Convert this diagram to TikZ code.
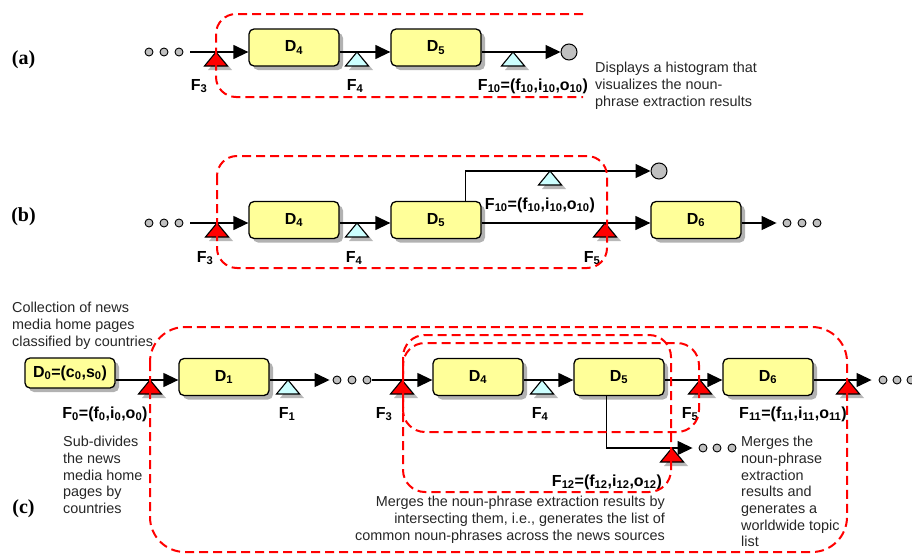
\documentclass[tikz,border=0pt]{standalone}
\usepackage{fontspec}
\setmainfont{Liberation Sans}
\newfontfamily\panelfont{Liberation Serif}
\usetikzlibrary{arrows.meta,shadows,calc}
\definecolor{boxyellow}{HTML}{FFFF99}
\definecolor{tred}{HTML}{FF0000}
\definecolor{tcyan}{HTML}{CCFFFF}
\definecolor{dotgray}{HTML}{C0C0C0}
\newcommand\lsb[1]{\textsubscript{#1}}
\tikzset{
  box/.style={draw, line width=1.3pt, rounded corners=5pt, fill=boxyellow,
    minimum width=90pt, minimum height=37pt, inner sep=0pt,
    font=\fontsize{16}{19}\selectfont\bfseries,
    drop shadow={shadow xshift=4pt, shadow yshift=-4pt, fill=black!30, opacity=1}},
  lab/.style={font=\fontsize{16}{19}\selectfont\bfseries, inner sep=0pt, anchor=base},
  desc/.style={font=\fontsize{14.4}{16.7}\selectfont, align=left, inner sep=0pt, text=black!85, anchor=north west},
  descr/.style={font=\fontsize{14.4}{16.7}\selectfont, align=right, inner sep=0pt, text=black!85, anchor=north east},
  dot/.style={circle, draw, fill=dotgray, minimum size=8pt, inner sep=0pt, line width=0.9pt},
  endc/.style={circle, draw, fill=dotgray, minimum size=16pt, inner sep=0pt, line width=1pt},
  arr/.style={line width=1.3pt, -{Triangle[length=15pt,width=14pt]}},
  grp/.style={draw=tred, line width=2pt, dash pattern=on 9pt off 5pt},
  panel/.style={font=\fontsize{20}{24}\selectfont\panelfont\bfseries, inner sep=0pt, anchor=base},
  pics/ftri/.style={code={
    \fill[black!28] (4,4) -- (-8,18) -- (16,18) -- cycle;
    \draw[fill=#1, line width=1.1pt, line join=miter] (0,0) -- (-11.5,14) -- (11.5,14) -- cycle;
  }}
}
\begin{document}
\begin{tikzpicture}[x=1pt,y=-1pt]
\useasboundingbox (0,0) rectangle (912,554);

% ---------------- panel (a)
\coordinate (ya) at (0,52);
\node[dot] (a1) at (149,52) {};
\node[dot] (a2) at (164,52) {};
\node[dot] (a3) at (179,52) {};
\node[box] (D4a) at (294,47.5) {D\lsb4};
\node[box] (D5a) at (436,47.5) {D\lsb5};
\node[endc] (Ea) at (569,52) {};
\draw[arr, shorten <=7pt] (a3.east) -- (D4a.west |- ya);
\draw[arr] (D4a.east |- ya) -- (D5a.west |- ya);
\draw[arr] (D5a.east |- ya) -- (Ea);
\pic at (216,52) {ftri=tred};
\pic at (357,52) {ftri=tcyan};
\pic at (513,52) {ftri=tcyan};
\node[lab] (F3a) at (199,90) {F\lsb3};
\node[lab] (F4a) at (355,90) {F\lsb4};
\node[lab] (F10a) at (533,90) {F\lsb{10}=(f\lsb{10},i\lsb{10},o\lsb{10})};
\node[desc] (Ta) at (595,62) {Displays a histogram that\\visualizes the noun-\\phrase extraction results};
\node[panel] (La) at (23.5,64) {(a)};
\draw[grp, rounded corners=20pt] (583,14) -- (216,14) -- (216,97) -- (583,97);

% ---------------- panel (b)
\coordinate (yb) at (0,223);
\node[dot] (b1) at (149,223) {};
\node[dot] (b2) at (164,223) {};
\node[dot] (b3) at (179,223) {};
\node[box] (D4b) at (294,220) {D\lsb4};
\node[box] (D5b) at (436,220) {D\lsb5};
\node[box] (D6b) at (696,220) {D\lsb6};
\node[endc] (Eb) at (659,171) {};
\node[dot] (bb1) at (787,223) {};
\node[dot] (bb2) at (802,223) {};
\node[dot] (bb3) at (817,223) {};
\draw[arr, shorten <=7pt] (b3.east) -- (D4b.west |- yb);
\draw[arr] (D4b.east |- yb) -- (D5b.west |- yb);
\draw[arr] (D5b.east |- yb) -- (D6b.west |- yb);
\draw[arr] ($(D5b.north east)+(-16,0)$) |- (Eb);
\draw[arr, shorten >=6pt] (D6b.east |- yb) -- (bb1.west);
\pic at (217,223) {ftri=tred};
\pic at (357,223) {ftri=tcyan};
\pic at (550,171) {ftri=tcyan};
\pic at (605,223) {ftri=tred};
\node[lab] (F3b) at (205,262) {F\lsb3};
\node[lab] (F4b) at (354,262) {F\lsb4};
\node[lab] (F5b) at (592,262) {F\lsb5};
\node[lab] (F10b) at (540,209) {F\lsb{10}=(f\lsb{10},i\lsb{10},o\lsb{10})};
\node[panel] (Lb) at (23.5,221) {(b)};
\draw[grp, rounded corners=20pt] (217,156) rectangle (607,268);

% ---------------- panel (c)
\coordinate (yc) at (0,380);
\node[box, minimum height=30pt] (D0) at (70,373) {D\lsb0=(c\lsb0,s\lsb0)};
\node[box] (D1) at (224,377) {D\lsb1};
\node[box] (D4c) at (478,377) {D\lsb4};
\node[box] (D5c) at (619,377) {D\lsb5};
\node[box] (D6c) at (768,377) {D\lsb6};
\node[dot] (c1) at (337,380) {};
\node[dot] (c2) at (352,380) {};
\node[dot] (c3) at (367,380) {};
\node[dot] (cc1) at (883,380) {};
\node[dot] (cc2) at (897,380) {};
\node[dot] (cc3) at (911,380) {};
\node[dot] (cd1) at (703,448) {};
\node[dot] (cd2) at (717,448) {};
\node[dot] (cd3) at (732,448) {};
\draw[arr] (D0.east |- yc) -- (D1.west |- yc);
\draw[arr, shorten >=3pt] (D1.east |- yc) -- (c1.west);
\draw[arr, shorten <=1pt] (c3.east) -- (D4c.west |- yc);
\draw[arr] (D4c.east |- yc) -- (D5c.west |- yc);
\draw[arr] (D5c.east |- yc) -- (D6c.west |- yc);
\draw[arr, shorten >=7pt] (D6c.east |- yc) -- (cc1.west);
\draw[arr, shorten >=6pt] ($(D5c.south west)+(33,0)$) |- (cd1.west);
\pic at (150,380) {ftri=tred};
\pic at (288,380) {ftri=tcyan};
\pic at (402,380) {ftri=tred};
\pic at (542,380) {ftri=tcyan};
\pic at (700,380) {ftri=tred};
\pic at (848,380) {ftri=tred};
\pic at (672,448) {ftri=tred};
\node[lab] (F0) at (105,418) {F\lsb0=(f\lsb0,i\lsb0,o\lsb0)};
\node[lab] (F1) at (287,418) {F\lsb1};
\node[lab] (F3c) at (384,418) {F\lsb3};
\node[lab] (F4c) at (540,418) {F\lsb4};
\node[lab] (F5c) at (690,418) {F\lsb5};
\node[lab] (F11) at (793,418) {F\lsb{11}=(f\lsb{11},i\lsb{11},o\lsb{11})};
\node[lab] (F12) at (607,486) {F\lsb{12}=(f\lsb{12},i\lsb{12},o\lsb{12})};
\node[desc] (Tc1) at (12,302) {Collection of news\\media home pages\\classified by countries};
\node[desc] (Tc2) at (63,436) {Sub-divides\\the news\\media home\\pages by\\countries};
\node[descr] (Tc3) at (665,496) {Merges the noun-phrase extraction results by\\intersecting them, i.e., generates the list of\\common noun-phrases across the news sources};
\node[desc] (Tc4) at (741,436) {Merges the\\noun-phrase\\extraction\\results and\\generates a\\worldwide topic\\list};
\node[panel] (Lc) at (23.5,513) {(c)};
\draw[grp, rounded corners=35pt] (150,327) rectangle (847,552);
\draw[grp, rounded corners=22pt] (403,343) rectangle (699,432);
\draw[grp, rounded corners=22pt] (403,335) rectangle (671,492);
\end{tikzpicture}
\end{document}
